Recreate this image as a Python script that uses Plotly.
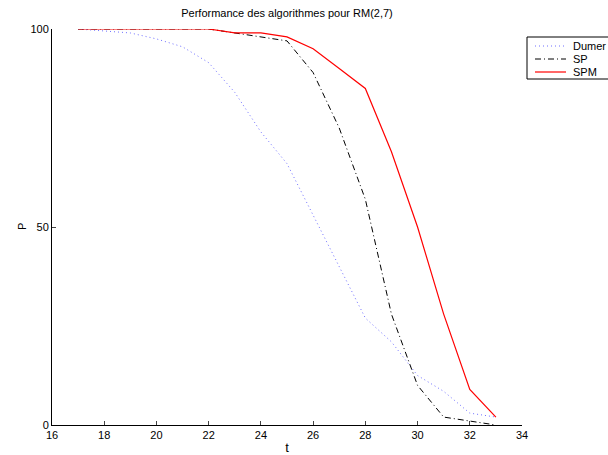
import plotly.graph_objects as go

t = [17, 18, 19, 20, 21, 22, 23, 24, 25, 26, 27, 28, 29, 30, 31, 32, 33]
dumer = [100, 99.5, 99, 97.5, 95.5, 91.5, 84, 74, 66, 53, 40, 27, 21, 12.5, 8.5, 3, 2]
sp = [100, 100, 100, 100, 100, 100, 99, 98, 97, 89, 75, 57, 28, 10, 2, 1, 0]
spm = [100, 100, 100, 100, 100, 100, 99, 99, 98, 95, 90, 85, 69, 50, 28, 9, 2]

series_names = ["Dumer", "SP", "SPM"]
x_ticks = [16, 18, 20, 22, 24, 26, 28, 30, 32, 34]
y_ticks = [0, 50, 100]

styles = [
    dict(color="#6f6fff", width=1, dash="1px,3px"),
    dict(color="black", width=1, dash="6px,3px,1px,3px"),
    dict(color="red", width=1.2),
]

W, H = 608, 455
L, R, T, B = 52, 522, 29, 425

fig = go.Figure()
for name, ys, st in zip(series_names, [dumer, sp, spm], styles):
    fig.add_trace(go.Scatter(x=t, y=ys, mode="lines", name=name, line=st,
                             showlegend=False))

def px(x):
    return (x - L) / (R - L)

def py(y):
    return (B - y) / (B - T)

# manual compact legend (MATLAB style)
shapes = [dict(type="rect", xref="paper", yref="paper",
               x0=px(527), x1=px(640), y0=py(79), y1=py(37),
               line=dict(color="black", width=1), fillcolor="white", layer="above")]
annotations = []
for i, (name, st) in enumerate(zip(series_names, styles)):
    yy = 46 + i * 13
    shapes.append(dict(type="line", xref="paper", yref="paper",
                       x0=px(535), x1=px(566), y0=py(yy), y1=py(yy),
                       line=st, layer="above"))
    annotations.append(dict(text=name, xref="paper", yref="paper",
                            x=px(571), y=py(yy), xanchor="left", yanchor="middle",
                            showarrow=False, font=dict(size=11, color="black")))

# y-axis label placed like MATLAB's
annotations.append(dict(text="P", xref="paper", yref="paper", x=px(22), y=py(227),
                        xanchor="center", yanchor="middle", textangle=-90,
                        showarrow=False, font=dict(size=11, color="black")))

font = dict(family="Liberation Sans, Arial, sans-serif", size=11, color="black")

fig.update_layout(
    width=W, height=H,
    margin=dict(l=L, r=W - R, t=T, b=H - B, autoexpand=False),
    paper_bgcolor="white", plot_bgcolor="white",
    font=font,
    title=dict(text="Performance des algorithmes pour RM(2,7)", x=(L + R) / 2 / W,
               xanchor="center", y=1 - 13 / H, yanchor="middle", font=dict(size=11)),
    showlegend=False,
    shapes=shapes,
    annotations=annotations,
    xaxis=dict(range=[16, 34], tickvals=x_ticks, ticks="inside", ticklen=4,
               showline=True, linecolor="black", linewidth=1, showgrid=False,
               zeroline=False, title=dict(text="t", standoff=2), tickfont=dict(size=11)),
    yaxis=dict(range=[0, 100], tickvals=y_ticks, ticks="inside", ticklen=4,
               showline=True, linecolor="black", linewidth=1, showgrid=False,
               zeroline=False, tickfont=dict(size=11)),
)

fig.write_html("out.html", config={"displayModeBar": False},
               post_script="document.body.style.margin='0';document.body.style.overflow='hidden';")
